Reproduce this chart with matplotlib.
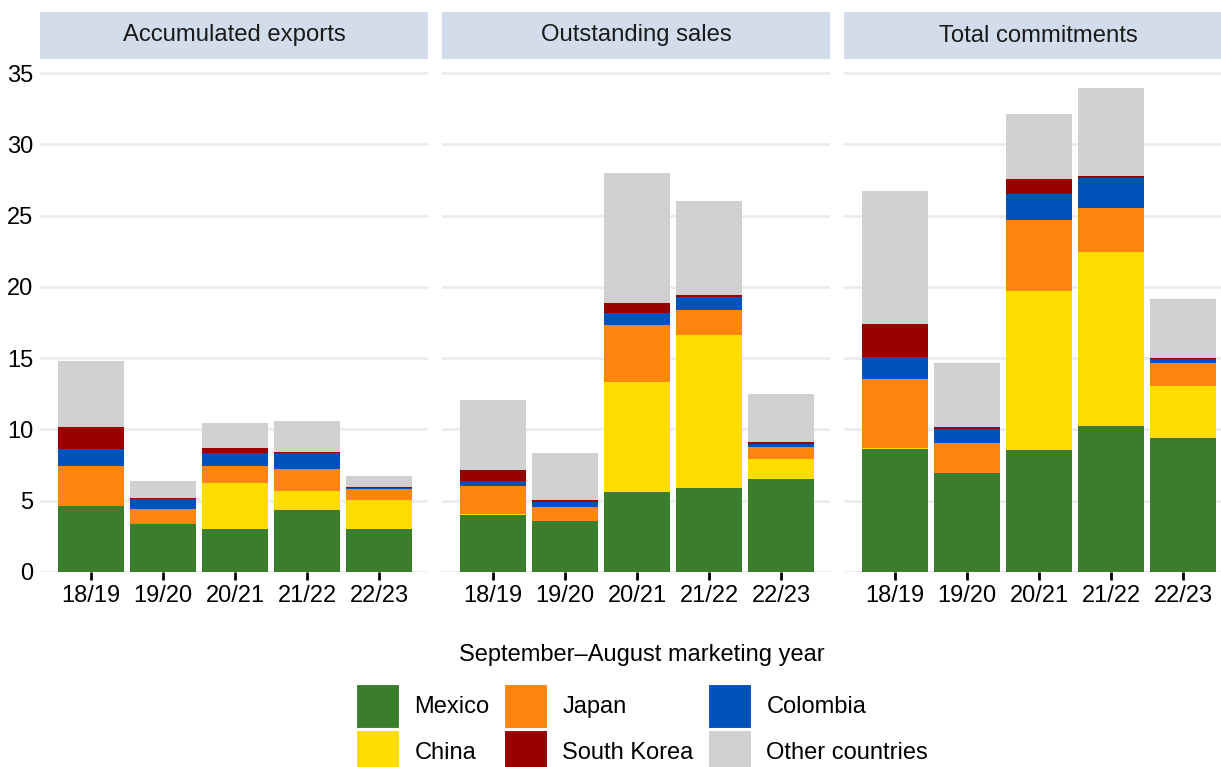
import matplotlib.pyplot as plt
from matplotlib.patches import Patch, Rectangle
import numpy as np

plt.rcParams['font.family'] = ['Liberation Sans', 'DejaVu Sans']

# ---- data (million tons) ----
years = ['18/19', '19/20', '20/21', '21/22', '22/23']
countries = ['Mexico', 'China', 'Japan', 'Colombia', 'South Korea', 'Other countries']
colors = ['#3a7d2c', '#ffdd00', '#ff8511', '#0052bb', '#990000', '#cfd0cf']

# Accumulated exports
exp_mexico = [4.63, 3.37, 2.99, 4.37, 2.99]
exp_china = [0.0, 0.0, 3.23, 1.31, 2.06]
exp_japan = [2.83, 1.07, 1.24, 1.57, 0.79]
exp_colombia = [1.16, 0.66, 0.86, 1.07, 0.07]
exp_korea = [1.57, 0.09, 0.40, 0.09, 0.07]
exp_other = [4.63, 1.19, 1.71, 2.18, 0.73]

# Outstanding sales
out_mexico = [4.00, 3.60, 5.59, 5.91, 6.54]
out_china = [0.07, 0.0, 7.76, 10.71, 1.38]
out_japan = [1.98, 0.98, 3.95, 1.75, 0.87]
out_colombia = [0.33, 0.35, 0.84, 0.89, 0.19]
out_korea = [0.77, 0.14, 0.70, 0.14, 0.14]
out_other = [4.91, 3.25, 9.16, 6.66, 3.38]

# Total commitments
tot_mexico = [8.60, 6.92, 8.56, 10.26, 9.42]
tot_china = [0.07, 0.0, 11.14, 12.16, 3.64]
tot_japan = [4.84, 2.10, 5.03, 3.13, 1.62]
tot_colombia = [1.57, 1.01, 1.80, 2.08, 0.28]
tot_korea = [2.31, 0.16, 1.03, 0.14, 0.07]
tot_other = [9.35, 4.49, 4.60, 6.19, 4.11]

panels = [
    ('Accumulated exports', [exp_mexico, exp_china, exp_japan, exp_colombia, exp_korea, exp_other]),
    ('Outstanding sales', [out_mexico, out_china, out_japan, out_colombia, out_korea, out_other]),
    ('Total commitments', [tot_mexico, tot_china, tot_japan, tot_colombia, tot_korea, tot_other]),
]

W, H = 1221, 767
fig = plt.figure(figsize=(W / 100, H / 100), dpi=100)

panel_left = [40, 442, 844]
panel_w = 388
ax_top, ax_bottom = 66, 572
strip_top, strip_bottom = 12, 59

x = np.arange(len(years))
for i, (title, series) in enumerate(panels):
    l = panel_left[i]
    ax = fig.add_axes([l / W, 1 - ax_bottom / H, panel_w / W, (ax_bottom - ax_top) / H])
    bottom = np.zeros(len(years))
    for vals, c in zip(series, colors):
        ax.bar(x, vals, width=0.92, bottom=bottom, color=c, edgecolor='none', zorder=3)
        bottom += np.array(vals)
    ax.set_xlim(-0.71, 4.68)
    ax.set_ylim(0, 35.5)
    ax.set_yticks(range(0, 36, 5))
    ax.grid(axis='y', color='#ebebeb', linewidth=2.0, zorder=0)
    ax.set_axisbelow(True)
    for s in ax.spines.values():
        s.set_visible(False)
    ax.set_xticks(x)
    ax.set_xticklabels(years, fontsize=17)
    ax.tick_params(axis='x', length=6, width=2, color='black', pad=3)
    if i == 0:
        ax.tick_params(axis='y', length=0, labelsize=17, pad=5)
    else:
        ax.tick_params(axis='y', length=0, labelleft=False)

    # facet strip
    sax = fig.add_axes([l / W, 1 - strip_bottom / H, panel_w / W, (strip_bottom - strip_top) / H])
    sax.add_patch(Rectangle((0, 0), 1, 1, facecolor='#d3dceb', edgecolor='none'))
    sax.set_xlim(0, 1)
    sax.set_ylim(0, 1)
    sax.axis('off')
    sax.text(0.5, 0.5, title, ha='center', va='center', fontsize=17.2, color='#1a1a1a')

# legend: column-major order -> Mexico/China, Japan/South Korea, Colombia/Other
order = ['Mexico', 'China', 'Japan', 'South Korea', 'Colombia', 'Other countries']
handles = [Patch(facecolor=colors[countries.index(n)], edgecolor='white', linewidth=0.8, label=n)
           for n in order]
leg = fig.legend(handles=handles, ncol=3, loc='upper center',
                 bbox_to_anchor=(0.526, 1 - 632 / H),
                 frameon=False, fontsize=17, title='September\u2013August marketing year',
                 title_fontsize=17, handlelength=1.82, handleheight=2.49, handletextpad=0.64,
                 columnspacing=0.62, labelspacing=0.085, borderpad=0)
leg._legend_box.sep = 13

fig.savefig('out.png', dpi=100)
